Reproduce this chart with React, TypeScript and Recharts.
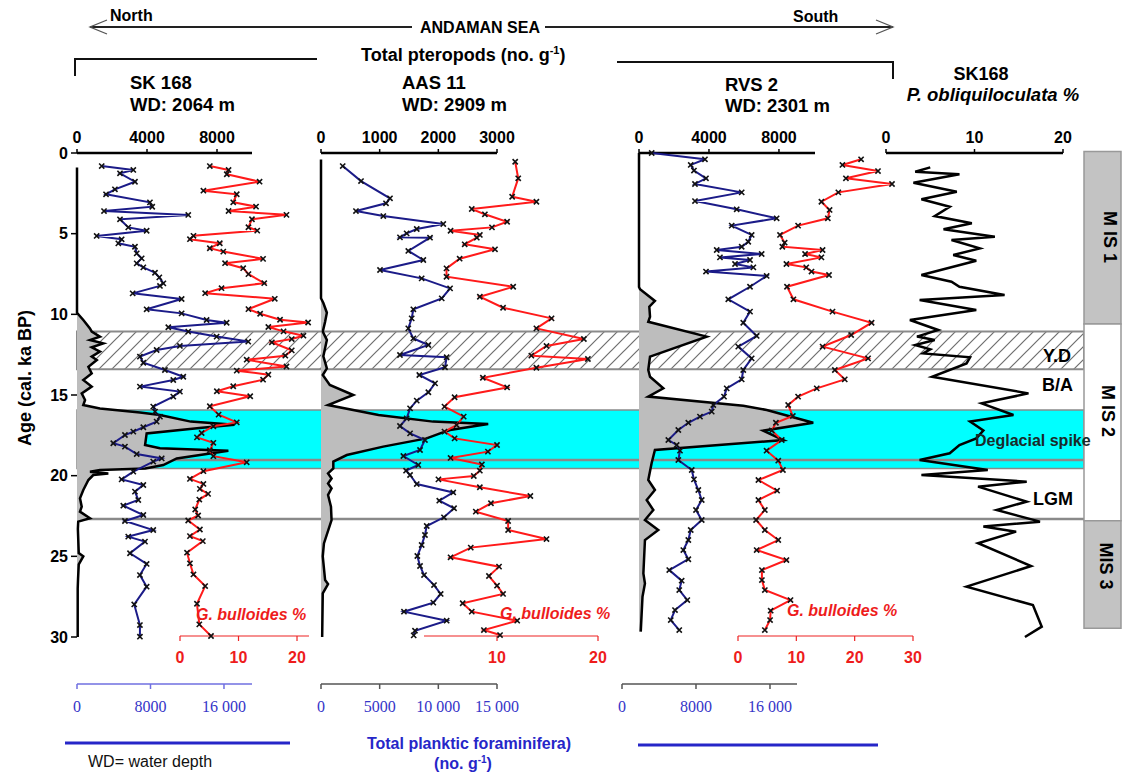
import React from 'react';
import { ComposedChart, Line, Area, XAxis, YAxis, ReferenceArea, ReferenceLine } from 'recharts';

const W = 1122;
const H = 780;
const SANS = "'Liberation Sans', Arial, Helvetica, sans-serif";
const SERIF = "'Liberation Serif', 'Times New Roman', serif";

const AGE_TOP_Y = 153;
const AGE_BOTTOM_Y = 637;
const AGE_MAX = 30;
const pxPerKa = (AGE_BOTTOM_Y - AGE_TOP_Y) / AGE_MAX;
const ageAt = (y: number) => (y - AGE_TOP_Y) / pxPerKa;

type Pt = [number, number];

// ---------- tick labels ----------
const ageTicks = [0, 5, 10, 15, 20, 25, 30];
const sk168PteroTicks = [0, 4000, 8000];
const aas11PteroTicks = [0, 1000, 2000, 3000];
const rvs2PteroTicks = [0, 4000, 8000];
const sk168ForamTicks = [0, 8000, 16000];
const aas11ForamTicks = [0, 5000, 10000, 15000];
const rvs2ForamTicks = [0, 8000, 16000];
const sk168BullTicks = [0, 10, 20];
const aas11BullTicks = [10, 20];
const rvs2BullTicks = [0, 10, 20, 30];
const obliqTicks = [0, 10, 20];

// ---------- events / stages (ka) ----------
const ydBand: Pt = [11.07, 13.41];
const deglacialBand: Pt = [15.93, 19.55];
const eventLines = [19.03, 22.69];
const misNames = ['M IS 1', 'M IS 2', 'MIS 3'];
const misFrom = [-0.1, 10.6, 22.8];
const misTo = [10.6, 22.8, 29.45];
const misFill = ['#c3c3c3', '#ffffff', '#c3c3c3'];

// ---------- SK 168 ----------
const sk168Pteropods: Pt[] = [
  [0.9, 0], [9.9, 0], [10.35, 360], [10.87, 740], [11.07, 840], [11.38, 1310], [11.59, 740], [11.8, 1500],
  [12.04, 840], [12.31, 1310], [12.62, 840], [12.83, 1130], [13.25, 650], [13.66, 840], [14.07, 360],
  [14.48, 840], [14.9, 270], [15.31, 460], [15.62, 360], [15.83, 1310], [16.09, 3600], [16.24, 4740],
  [16.65, 6500], [16.85, 9000], [17.05, 7000], [17.38, 3980], [18.1, 3890], [18.3, 4740], [18.45, 8650],
  [18.93, 5700], [19.34, 4930], [19.55, 3900], [19.65, 1310], [19.75, 740], [19.86, 1790], [19.96, 930],
  [20.27, 650], [20.89, 360], [21.4, 170], [21.92, 270], [22.23, 170], [22.64, 740], [22.85, 70],
  [23.3, 50], [24.8, 100], [25.0, 360], [25.5, 100], [26.4, 60], [27.0, 40], [30.0, 40],
];
const sk168Foram: Pt[] = [
  [0.81, 2690], [1.05, 6130], [1.26, 4680], [1.78, 6310], [2.25, 4130], [2.56, 3160], [3.06, 7940],
  [3.33, 8190], [3.6, 2940], [3.84, 12110], [4.11, 4680], [4.61, 5580], [4.82, 7580], [5.14, 2140],
  [5.35, 4860], [5.6, 4500], [5.81, 6310], [6.22, 6500], [6.53, 7040], [6.84, 6500], [7.09, 7220],
  [7.42, 8490], [7.71, 8960], [8.08, 9400], [8.24, 9030], [8.7, 6060], [9.05, 11390], [9.69, 7580],
  [9.94, 11390], [10.35, 14110], [10.52, 16290], [10.8, 9940], [11.07, 12110], [11.38, 15200],
  [11.69, 18640], [11.96, 11200], [12.21, 8670], [12.62, 6850], [13.0, 7220], [13.45, 9570],
  [13.87, 11570], [14.07, 10480], [14.48, 6850], [14.79, 11200], [15.1, 10480], [15.72, 8300],
  [16.03, 8490], [16.34, 9030], [16.65, 8670], [17.0, 7220], [17.27, 6130], [17.48, 5220], [17.99, 3950],
  [18.2, 5220], [18.66, 6500], [18.93, 9220], [19.13, 8300], [19.75, 6130], [20.23, 4860], [20.58, 7220],
  [20.99, 6310], [21.51, 6670], [21.86, 5040], [22.44, 7220], [22.81, 5220], [23.37, 8300], [23.78, 5580],
  [24.09, 7400], [24.81, 5770], [25.47, 7580], [26.16, 6850], [26.88, 7580], [27.98, 6230], [29.26, 6850],
  [29.98, 6850],
];
const sk168Bulloides: Pt[] = [
  [0.81, 5.1], [1.05, 8.3], [1.32, 8.0], [1.78, 13.6], [2.34, 4.0], [2.56, 9.7], [3.06, 9.1], [3.33, 13.0],
  [3.6, 8.3], [3.84, 18.2], [4.11, 12.3], [4.61, 11.7], [4.82, 13.2], [5.14, 2.3], [5.35, 1.7], [5.6, 6.8],
  [5.91, 5.1], [6.12, 7.4], [6.57, 14.2], [6.84, 7.7], [7.15, 10.8], [7.52, 11.7], [8.08, 14.4], [8.39, 7.1],
  [8.7, 4.3], [9.05, 16.2], [9.69, 11.7], [9.98, 13.7], [10.35, 17.1], [10.52, 21.9], [10.8, 15.1],
  [11.07, 17.7], [11.34, 21.1], [11.55, 19.1], [11.75, 15.7], [12.25, 19.1], [12.58, 18.0], [12.83, 11.4],
  [13.25, 18.2], [13.51, 9.7], [13.76, 15.1], [14.07, 14.2], [14.48, 9.1], [14.79, 6.3], [15.1, 12.0],
  [15.72, 5.1], [16.24, 6.6], [16.72, 9.7], [16.96, 5.7], [17.38, 3.7], [17.65, 2.9], [17.99, 5.7],
  [18.45, 5.1], [18.82, 5.7], [19.2, 11.4], [19.75, 4.0], [20.23, 1.7], [20.54, 4.0], [20.85, 3.4],
  [21.16, 4.8], [21.51, 3.3], [22.13, 2.6], [22.5, 3.1], [22.81, 1.4], [23.37, 3.4], [23.78, 1.7],
  [24.09, 3.9], [24.81, 1.2], [25.47, 1.7], [26.16, 2.3], [26.88, 4.3], [27.98, 2.9], [29.26, 3.3],
  [29.98, 5.3],
];

// ---------- AAS 11 ----------
const aas11Pteropods: Pt[] = [
  [0.4, 0], [9.0, 0], [9.3, 40], [9.9, 100], [10.46, 70], [11.07, 30], [11.59, 100], [12.6, 40],
  [13.35, 100], [13.76, 30], [14.38, 150], [15.0, 550], [15.62, 120], [16.24, 980], [16.65, 1910],
  [16.8, 2850], [17.17, 2200], [17.38, 2030], [17.69, 1800], [18.2, 1060], [18.72, 440], [19.13, 210],
  [19.55, 210], [19.86, 120], [20.17, 180], [20.48, 120], [20.79, 180], [21.2, 120], [21.92, 170],
  [22.75, 180], [24.2, 50], [25.0, 30], [26.47, 70], [26.72, 120], [27.3, 30], [30.0, 20],
];
const aas11Foram: Pt[] = [
  [0.81, 1850], [1.74, 3410], [2.81, 5880], [3.12, 5540], [3.6, 2980], [3.91, 5310], [4.4, 10420],
  [4.71, 8160], [4.98, 7300], [5.23, 6730], [5.25, 9290], [6.07, 7440], [6.63, 8720], [7.25, 5030],
  [7.77, 8580], [8.39, 11000], [9.01, 10290], [9.69, 7870], [10.25, 7730], [10.87, 7440], [11.49, 7870],
  [11.9, 9150], [12.52, 6730], [12.66, 10710], [13.28, 10570], [13.76, 8380], [14.28, 9720], [14.83, 9150],
  [15.35, 8160], [15.83, 7590], [16.45, 7300], [16.92, 6730], [17.38, 7590], [17.79, 8860], [18.41, 8440],
  [18.78, 7020], [19.34, 8290], [19.69, 7250], [19.96, 7590], [20.52, 8160], [21.04, 11270], [21.55, 10080],
  [22.02, 11340], [22.58, 10480], [23.12, 9010], [23.68, 8860], [24.3, 8580], [24.98, 8210], [25.6, 8440],
  [26.16, 8780], [26.78, 9630], [27.33, 10200], [27.87, 9570], [28.43, 7070], [28.99, 10710], [29.61, 8010],
  [29.9, 7900],
];
const aas11Bulloides: Pt[] = [
  [0.54, 11.8], [1.57, 12.1], [2.71, 11.5], [3.02, 13.9], [3.47, 7.5], [3.8, 8.8], [4.26, 11.0], [4.61, 9.5],
  [4.82, 5.4], [5.08, 8.3], [5.25, 8.0], [5.66, 6.8], [5.97, 9.8], [6.55, 6.3], [7.15, 5.0], [7.67, 5.0],
  [8.29, 11.6], [8.91, 8.3], [9.59, 10.6], [10.25, 15.4], [10.87, 13.9], [11.53, 18.6], [11.96, 14.9],
  [12.56, 13.4], [12.77, 19.0], [13.31, 13.9], [13.93, 8.6], [14.53, 11.0], [15.14, 5.8], [15.72, 4.8],
  [16.34, 6.7], [16.86, 6.0], [17.27, 4.8], [17.69, 5.8], [18.1, 10.0], [18.51, 9.1], [18.9, 5.4],
  [19.31, 8.5], [19.69, 8.3], [20.02, 7.7], [20.23, 4.2], [20.72, 8.3], [21.26, 13.3], [21.71, 9.4],
  [22.23, 7.9], [22.81, 11.1], [23.37, 11.1], [23.93, 14.9], [24.46, 7.4], [25.06, 5.4], [25.64, 10.2],
  [26.22, 9.2], [26.82, 10.0], [27.33, 10.6], [27.91, 6.6], [28.43, 7.5], [28.99, 12.0], [29.57, 8.7],
  [29.88, 10.3],
];

// ---------- RVS 2 ----------
const rvs2Pteropods: Pt[] = [
  [0, 0], [8.3, 0], [8.45, 60], [9.17, 910], [9.53, 590], [10.15, 630], [10.46, 530], [11.38, 3870],
  [12.62, 630], [13.45, 530], [13.87, 630], [14.59, 1390], [15.1, 530], [15.66, 5960], [15.93, 7300],
  [16.72, 9960], [17.21, 7100], [17.79, 8250], [18.41, 910], [19.23, 720], [20.27, 530], [20.89, 910],
  [21.51, 440], [22.13, 820], [22.75, 340], [23.37, 1100], [23.99, 340], [26.06, 250], [26.68, 340],
  [27.5, 200], [29.67, 100],
];
const rvs2Foram: Pt[] = [
  [0, 3210], [0.39, 8970], [0.74, 7430], [1.09, 7780], [1.57, 9080], [1.92, 7890], [2.44, 12940],
  [2.98, 7890], [3.49, 12400], [4.05, 16720], [4.5, 11860], [5.08, 14020], [5.5, 13650], [5.81, 12940],
  [6.01, 10240], [6.26, 15100], [6.47, 10590], [6.63, 13840], [6.88, 12220], [7.09, 14200], [7.35, 9080],
  [7.62, 15640], [8.29, 13840], [9.07, 11490], [9.83, 13840], [10.52, 13110], [11.34, 14560], [12.0, 12570],
  [12.73, 14020], [13.45, 13110], [14.03, 12940], [14.59, 11320], [15.1, 11030], [15.62, 9870], [16.03, 9700],
  [16.34, 8430], [16.72, 7170], [17.17, 6090], [17.79, 5010], [18.1, 5910], [18.45, 6270], [19.03, 6090],
  [19.65, 7540], [20.23, 7780], [20.89, 8250], [21.51, 8620], [22.13, 8000], [22.75, 8620], [23.37, 7430],
  [23.99, 7170], [24.61, 6630], [25.18, 7170], [25.85, 5110], [26.51, 6450], [27.09, 6190], [27.71, 7060],
  [28.33, 5730], [28.95, 5270], [29.57, 6190],
];
const rvs2Bulloides: Pt[] = [
  [0.39, 21.1], [0.74, 17.9], [1.12, 24.0], [1.57, 18.5], [1.92, 26.4], [2.44, 17.2], [3.02, 14.3],
  [3.53, 15.7], [4.05, 15.4], [4.5, 10.3], [5.08, 7.2], [5.56, 8.0], [5.81, 7.6], [6.01, 14.5], [6.26, 11.5],
  [6.47, 14.3], [6.88, 8.3], [7.09, 11.7], [7.35, 12.6], [7.56, 15.6], [8.29, 8.4], [9.07, 9.5], [9.83, 16.2],
  [10.52, 22.9], [11.28, 19.4], [12.0, 14.5], [12.73, 22.3], [13.45, 16.6], [14.03, 18.3], [14.59, 13.5],
  [15.1, 10.3], [15.62, 8.6], [16.3, 9.4], [16.72, 6.5], [17.2, 5.8], [17.79, 7.5], [18.45, 4.9], [19.07, 6.9],
  [19.65, 7.7], [20.27, 3.5], [20.93, 6.7], [21.51, 3.5], [22.13, 4.6], [22.75, 3.1], [23.37, 4.6],
  [23.99, 6.9], [24.61, 3.2], [25.23, 8.3], [25.85, 4.1], [26.47, 4.1], [27.09, 4.6], [27.71, 9.0],
  [28.37, 5.6], [28.95, 5.5], [29.57, 4.6],
];

// ---------- SK168 P. obliquiloculata % ----------
const sk168Obliq: Pt[] = [
  [0.89, 5.0], [1.16, 3.3], [1.32, 8.3], [1.84, 3.1], [2.4, 8.0], [2.87, 4.0], [3.33, 7.2], [3.91, 5.5],
  [4.36, 9.7], [4.73, 6.5], [5.19, 12.3], [5.39, 7.4], [5.91, 10.6], [6.32, 7.6], [6.68, 10.2], [7.56, 4.0],
  [7.98, 7.4], [8.29, 8.3], [8.8, 13.4], [9.11, 3.8], [9.73, 10.2], [10.35, 2.7], [10.97, 5.9], [11.38, 3.5],
  [11.59, 5.5], [11.9, 3.3], [12.17, 5.0], [12.42, 4.2], [12.66, 9.5], [13.04, 9.1], [13.87, 5.2],
  [14.9, 16.1], [15.52, 10.8], [16.24, 14.4], [16.65, 9.5], [17.2, 11.0], [17.69, 10.2], [18.1, 8.3],
  [18.61, 7.2], [19.03, 3.8], [19.65, 11.5], [19.96, 4.0], [20.37, 15.9], [20.68, 10.4], [21.61, 15.9],
  [22.13, 12.5], [22.85, 17.4], [23.15, 11.0], [23.47, 14.7], [24.19, 10.4], [25.6, 16.4], [26.88, 9.1],
  [28.02, 16.6], [29.36, 17.6], [30.0, 15.7],
];

const rows = (pts: Pt[]) => pts.map(([age, v]) => ({ age, v }));
const ageRows = ageTicks.map((age) => ({ age, v: 0 }));
const fmtThousands = (v: number) => (v >= 10000 ? `${Math.floor(v / 1000)} 000` : `${v}`);

const Cross = (props: any) => {
  const { cx, cy } = props;
  if (cx == null || cy == null || isNaN(cx) || isNaN(cy)) return <g />;
  const s = 2.6;
  return (
    <path
      d={`M${cx - s},${cy - s}L${cx + s},${cy + s}M${cx - s},${cy + s}L${cx + s},${cy - s}`}
      stroke="#111"
      strokeWidth={1.6}
      fill="none"
    />
  );
};
const crossDot = (p: any) => <Cross key={`c${p.index}`} cx={p.cx} cy={p.cy} />;

function Layer(props: {
  x0: number; x1: number; y1?: number; topH?: number; botH?: number; leftW?: number;
  data?: any[]; ageAxis?: boolean; children?: React.ReactNode;
}) {
  const { x0, x1, y1 = AGE_BOTTOM_Y, topH = 0, botH = 0, leftW = 0, data = ageRows, ageAxis = false, children } = props;
  return (
    <div style={{ position: 'absolute', left: 0, top: 0, width: W, height: H }}>
      <ComposedChart
        width={W}
        height={H}
        layout="vertical"
        data={data}
        margin={{ left: x0 - leftW, right: W - x1, top: AGE_TOP_Y - topH, bottom: H - y1 - botH }}
      >
        {ageAxis ? (
          <YAxis
            type="number"
            dataKey="age"
            domain={[0, AGE_MAX]}
            ticks={ageTicks}
            interval={0}
            width={leftW}
            axisLine={false}
            tickLine={{ stroke: '#000', strokeWidth: 1.5 }}
            tickSize={6}
            tickMargin={3}
            tick={{ fill: '#000', fontSize: 16, fontWeight: 'bold', fontFamily: SANS }}
          />
        ) : (
          <YAxis type="number" dataKey="age" domain={[0, ageAt(y1)]} hide />
        )}
        {children}
      </ComposedChart>
    </div>
  );
}

const topAxisProps = {
  type: 'number' as const,
  orientation: 'top' as const,
  interval: 0,
  height: 30,
  axisLine: { stroke: '#000', strokeWidth: 2.5 },
  tickLine: { stroke: '#000', strokeWidth: 1.5 },
  tickSize: 4,
  tickMargin: 6,
  tick: { fill: '#000', fontSize: 16, fontWeight: 'bold', fontFamily: SANS },
};
const foramAxisProps = (lineColor: string) => ({
  type: 'number' as const,
  orientation: 'bottom' as const,
  interval: 0,
  height: 45,
  axisLine: { stroke: lineColor, strokeWidth: 1.5 },
  tickLine: { stroke: lineColor, strokeWidth: 1.5 },
  tickSize: 5,
  tickMargin: 12,
  tickFormatter: fmtThousands,
  tick: { fill: '#3535c8', fontSize: 16, fontFamily: SERIF },
});
const bullAxisProps = {
  type: 'number' as const,
  orientation: 'bottom' as const,
  interval: 0,
  height: 40,
  axisLine: { stroke: '#ee2222', strokeWidth: 1.2 },
  tickLine: { stroke: '#ee2222', strokeWidth: 1.2 },
  tickSize: 5,
  tickMargin: 11,
  tick: { fill: '#ee1c1c', fontSize: 16, fontWeight: 'bold', fontFamily: SANS },
};

const BLUE = '#1b1b88';
const RED = '#ff1a1a';
const GRAYFILL = '#bdbdbd';

function Overlay() {
  const b = { fontFamily: SANS, fontWeight: 700 as const };
  return (
    <svg width={W} height={H} style={{ position: 'absolute', left: 0, top: 0 }}>
      <line x1={90} y1={27} x2={412} y2={27} stroke="#222" strokeWidth={2} />
      <line x1={545} y1={27} x2={893} y2={27} stroke="#222" strokeWidth={2} />
      <polyline points="107,20 90,27 107,34" fill="none" stroke="#555" strokeWidth={1.3} />
      <polyline points="876,20 893,27 876,34" fill="none" stroke="#555" strokeWidth={1.3} />
      <text x={110} y={21} fontSize={16} {...b}>North</text>
      <text x={480} y={33} fontSize={16} textAnchor="middle" {...b}>ANDAMAN SEA</text>
      <text x={793} y={22} fontSize={16} {...b}>South</text>

      <polyline points="75,76 75,59 317,59" fill="none" stroke="#111" strokeWidth={2} />
      <polyline points="617,62 893,62 893,79" fill="none" stroke="#111" strokeWidth={2} />
      <text x={361} y={61} fontSize={18} {...b}>
        Total pteropods (no. g<tspan dy={-7} fontSize={11}>-1</tspan><tspan dy={7}>)</tspan>
      </text>

      <text x={130} y={89} fontSize={18.5} {...b}>SK 168</text>
      <text x={130} y={111} fontSize={18.5} {...b}>WD: 2064 m</text>
      <text x={402} y={89} fontSize={18.5} {...b}>AAS 11</text>
      <text x={402} y={111} fontSize={18.5} {...b}>WD: 2909 m</text>
      <text x={725} y={91} fontSize={18.5} {...b}>RVS 2</text>
      <text x={725} y={112} fontSize={18.5} {...b}>WD: 2301 m</text>
      <text x={981} y={80} fontSize={18} textAnchor="middle" {...b}>SK168</text>
      <text x={993} y={101} fontSize={18.5} textAnchor="middle" fontStyle="italic" {...b}>P. obliquiloculata %</text>

      <text transform="translate(31,378) rotate(-90)" fontSize={18} textAnchor="middle" {...b}>Age (cal. ka BP)</text>

      <text x={196} y={620} fontSize={16} fill="#ee1c1c" fontStyle="italic" {...b}>G. bulloides %</text>
      <text x={500} y={619} fontSize={16} fill="#ee1c1c" fontStyle="italic" {...b}>G. bulloides %</text>
      <text x={787} y={616} fontSize={16} fill="#ee1c1c" fontStyle="italic" {...b}>G. bulloides %</text>

      <text x={1043} y={362} fontSize={18} {...b}>Y.D</text>
      <text x={1042} y={391} fontSize={18} {...b}>B/A</text>
      <text x={975} y={446} fontSize={16} fill="#1a2a2a" {...b}>Deglacial spike</text>
      <text x={1033} y={505} fontSize={18} {...b}>LGM</text>

      <text transform="translate(1110,237) rotate(90)" fontSize={18} textAnchor="middle" dominantBaseline="central" {...b}>{misNames[0]}</text>
      <text transform="translate(1108,411) rotate(90)" fontSize={18} textAnchor="middle" dominantBaseline="central" {...b}>{misNames[1]}</text>
      <text transform="translate(1106,566) rotate(90)" fontSize={18} textAnchor="middle" dominantBaseline="central" {...b}>{misNames[2]}</text>

      <line x1={65} y1={743} x2={290} y2={743} stroke="#2626c8" strokeWidth={3} />
      <line x1={638} y1={745} x2={878} y2={745} stroke="#2626c8" strokeWidth={3} />
      <text x={88} y={767} fontSize={16} fontFamily={SANS} fill="#111">WD= water depth</text>
      <text x={469} y={749} fontSize={16} textAnchor="middle" fill="#2626c8" {...b}>Total planktic foraminifera)</text>
      <text x={463} y={769} fontSize={16} textAnchor="middle" fill="#2626c8" {...b}>
        (no. g<tspan dy={-6} fontSize={10}>-1</tspan><tspan dy={6}>)</tspan>
      </text>
    </svg>
  );
}

export default function App() {
  return (
    <div style={{ position: 'absolute', left: 0, top: 0, width: W, height: H, background: '#fff', overflow: 'hidden' }}>
      {/* background bands + age axis */}
      <Layer x0={77} x1={1084} leftW={40} ageAxis>
        <defs>
          <pattern id="hatch" patternUnits="userSpaceOnUse" width={13} height={13}>
            <rect width={13} height={13} fill="#fff" />
            <path d="M0,13 L13,0 M-3,3 L3,-3 M10,16 L16,10" stroke="#6e6e6e" strokeWidth={1.2} />
          </pattern>
        </defs>
        <XAxis type="number" dataKey="v" domain={[0, 1]} hide />
        <ReferenceArea y1={deglacialBand[0]} y2={deglacialBand[1]} ifOverflow="visible" fill="#00ffff" fillOpacity={1} stroke="#8a8a8a" strokeWidth={1.5} />
        <ReferenceArea y1={ydBand[0]} y2={ydBand[1]} ifOverflow="visible" fill="url(#hatch)" fillOpacity={1} stroke="#8a8a8a" strokeWidth={2} />
        {eventLines.map((a) => (
          <ReferenceLine key={a} y={a} ifOverflow="visible" stroke="#8a8a8a" strokeWidth={2.5} />
        ))}
      </Layer>

      {/* MIS column */}
      <Layer x0={1084} x1={1121}>
        <XAxis type="number" dataKey="v" domain={[0, 1]} hide />
        {misNames.map((n, i) => (
          <ReferenceArea key={n} y1={misFrom[i]} y2={misTo[i]} ifOverflow="visible" fill={misFill[i]} fillOpacity={1} stroke="#999" strokeWidth={1.5} />
        ))}
      </Layer>

      {/* pteropods (top axes) */}
      <Layer x0={77} x1={252} topH={30} data={rows(sk168Pteropods)}>
        <XAxis {...topAxisProps} domain={[0, 10000]} ticks={sk168PteroTicks} />
        <Area dataKey="v" type="linear" stroke="#000" strokeWidth={2.5} fill={GRAYFILL} fillOpacity={1} isAnimationActive={false} dot={false} activeDot={false} />
      </Layer>
      <Layer x0={321} x1={497} topH={30} data={rows(aas11Pteropods)}>
        <XAxis {...topAxisProps} domain={[0, 3000]} ticks={aas11PteroTicks} />
        <Area dataKey="v" type="linear" stroke="#000" strokeWidth={2.5} fill={GRAYFILL} fillOpacity={1} isAnimationActive={false} dot={false} activeDot={false} />
      </Layer>
      <Layer x0={639} x1={815} topH={30} data={rows(rvs2Pteropods)}>
        <XAxis {...topAxisProps} domain={[0, 10060]} ticks={rvs2PteroTicks} />
        <Area dataKey="v" type="linear" stroke="#000" strokeWidth={2.5} fill={GRAYFILL} fillOpacity={1} isAnimationActive={false} dot={false} activeDot={false} />
      </Layer>

      {/* total planktic foraminifera (bottom blue axes) */}
      <Layer x0={77} x1={252} y1={684} botH={45} data={rows(sk168Foram)}>
        <XAxis {...foramAxisProps('#6f6fe0')} domain={[0, 19050]} ticks={sk168ForamTicks} />
        <Line dataKey="v" type="linear" stroke={BLUE} strokeWidth={2} dot={crossDot} activeDot={false} isAnimationActive={false} />
      </Layer>
      <Layer x0={321} x1={497} y1={684} botH={45} data={rows(aas11Foram)}>
        <XAxis {...foramAxisProps('#555')} domain={[0, 15000]} ticks={aas11ForamTicks} />
        <Line dataKey="v" type="linear" stroke={BLUE} strokeWidth={2} dot={crossDot} activeDot={false} isAnimationActive={false} />
      </Layer>
      <Layer x0={622} x1={797} y1={684} botH={45} data={rows(rvs2Foram)}>
        <XAxis {...foramAxisProps('#555')} domain={[0, 18920]} ticks={rvs2ForamTicks} />
        <Line dataKey="v" type="linear" stroke={BLUE} strokeWidth={2} dot={crossDot} activeDot={false} isAnimationActive={false} />
      </Layer>

      {/* G. bulloides % (red axes) */}
      <Layer x0={180} x1={309} y1={636} botH={40} data={rows(sk168Bulloides)}>
        <XAxis {...bullAxisProps} domain={[0, 22.05]} ticks={sk168BullTicks} />
        <Line dataKey="v" type="linear" stroke={RED} strokeWidth={2} dot={crossDot} activeDot={false} isAnimationActive={false} />
      </Layer>
      <Layer x0={424} x1={598} y1={636} botH={40} data={rows(aas11Bulloides)}>
        <XAxis {...bullAxisProps} domain={[2.77, 20]} ticks={aas11BullTicks} />
        <Line dataKey="v" type="linear" stroke={RED} strokeWidth={2} dot={crossDot} activeDot={false} isAnimationActive={false} />
      </Layer>
      <Layer x0={738} x1={913} y1={636} botH={40} data={rows(rvs2Bulloides)}>
        <XAxis {...bullAxisProps} domain={[0, 30]} ticks={rvs2BullTicks} />
        <Line dataKey="v" type="linear" stroke={RED} strokeWidth={2} dot={crossDot} activeDot={false} isAnimationActive={false} />
      </Layer>

      {/* P. obliquiloculata % */}
      <Layer x0={886} x1={1063} topH={30} data={rows(sk168Obliq)}>
        <XAxis {...topAxisProps} domain={[0, 20]} ticks={obliqTicks} />
        <Line dataKey="v" type="linear" stroke="#000" strokeWidth={2.5} dot={false} activeDot={false} isAnimationActive={false} />
      </Layer>

      <Overlay />
    </div>
  );
}
